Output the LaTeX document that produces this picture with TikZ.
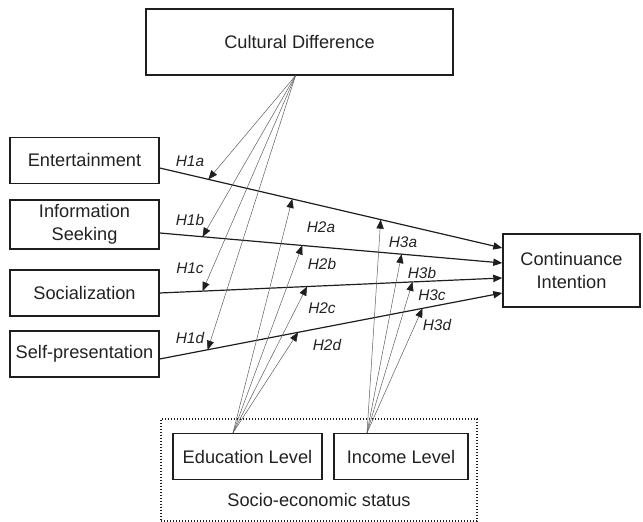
\documentclass[tikz,border=0pt]{standalone}
\usepackage{fontspec}
\setmainfont{Liberation Sans}
\definecolor{BoxLine}{HTML}{1E1E1E}
\definecolor{TextGray}{HTML}{222222}
\definecolor{ModLine}{HTML}{5E5E5E}
\usetikzlibrary{arrows.meta, positioning}

\begin{document}
\begin{tikzpicture}[
  x=0.5pt, y=-0.5pt,
  box/.style={rectangle, draw=BoxLine, line width=0.7pt, inner sep=0pt,
    minimum height=23pt, minimum width=74.5pt, font=\fontsize{9.1}{11.5}\selectfont,
    text=TextGray, align=center},
  group/.style={rectangle, draw=BoxLine, line width=0.55pt, dash pattern=on 0.5pt off 1pt, inner sep=0pt},
  hyp/.style={font=\fontsize{7.7}{9}\selectfont\itshape, text=TextGray, inner sep=0pt},
  effect/.style={-{Triangle[length=4.5pt,width=3.6pt]}, line width=0.6pt, draw=BoxLine},
  moder/.style={-{Triangle[length=4.5pt,width=3.6pt,color=BoxLine]}, line width=0.25pt, draw=ModLine}
]
  \useasboundingbox (0,0) rectangle (643,522);

  % constructs
  \node[box, minimum width=153.5pt, minimum height=33pt] (cd) at (299.5,42) {Cultural Difference};
  \node[box] (ent) at (84.5,160.5) {Entertainment};
  \node[box, minimum height=24.5pt] (info) at (84.5,224.5) {Information\\Seeking};
  \node[box] (soc) at (84.5,293) {Socialization};
  \node[box] (self) at (84.5,354) {Self-presentation};
  \node[box, minimum width=68.5pt, minimum height=36.5pt] (ci) at (571.5,270.5) {Continuance\\Intention};

  % socio-economic status
  \node[group, minimum width=158pt, minimum height=51pt] (ses) at (319,470) {};
  \node[box] (edu) at (247.5,456.5) {Education Level};
  \node[box, minimum width=67pt] (inc) at (401,456.5) {Income Level};
  \node[font=\fontsize{9.1}{11.5}\selectfont, text=TextGray] (sestxt) at (319,500) {Socio-economic status};

  % direct effects
  \draw[effect] ([yshift=-3.75pt]ent.east) -- coordinate[pos=0.142] (e1) coordinate[pos=0.387] (e2)
    coordinate[pos=0.645] (e3) ([yshift=11.25pt]ci.west);
  \draw[effect] ([yshift=-4.25pt]info.east) -- coordinate[pos=0.125] (i1) coordinate[pos=0.416] (i2)
    coordinate[pos=0.706] (i3) ([yshift=3.75pt]ci.west);
  \draw[effect] (soc.east) -- coordinate[pos=0.125] (s1) coordinate[pos=0.43] (s2)
    coordinate[pos=0.738] (s3) ([yshift=-3.75pt]ci.west);
  \draw[effect] ([yshift=-2.5pt]self.east) -- coordinate[pos=0.14] (p1) coordinate[pos=0.404] (p2)
    coordinate[pos=0.767] (p3) ([yshift=-11.25pt]ci.west);

  % moderators
  \coordinate (cdf) at ([xshift=-2pt]cd.south);
  \coordinate (eduf) at ([xshift=-7.25pt]edu.north);
  \coordinate (incf) at ([xshift=-17pt]inc.north);
  \draw[moder] (cdf) -- (e1);
  \draw[moder] (cdf) -- (i1);
  \draw[moder] (cdf) -- (s1);
  \draw[moder] (cdf) -- (p1);
  \draw[moder] (eduf) -- (e2);
  \draw[moder] (eduf) -- (i2);
  \draw[moder] (eduf) -- (s2);
  \draw[moder] (eduf) -- (p2);
  \draw[moder] (incf) -- (e3);
  \draw[moder] (incf) -- (i3);
  \draw[moder] (incf) -- (s3);
  \draw[moder] (incf) -- (p3);

  % hypothesis labels
  \node[hyp] (h1a) at (190,161) {H1a};
  \node[hyp] (h1b) at (190,220) {H1b};
  \node[hyp] (h1c) at (190,268) {H1c};
  \node[hyp] (h1d) at (190,338) {H1d};
  \node[hyp] (h2a) at (321,227) {H2a};
  \node[hyp] (h2b) at (322,264) {H2b};
  \node[hyp] (h2c) at (322,308) {H2c};
  \node[hyp] (h2d) at (327,345) {H2d};
  \node[hyp] (h3a) at (403,242) {H3a};
  \node[hyp] (h3b) at (422,273) {H3b};
  \node[hyp] (h3c) at (432,295) {H3c};
  \node[hyp] (h3d) at (437,325) {H3d};
\end{tikzpicture}
\end{document}
